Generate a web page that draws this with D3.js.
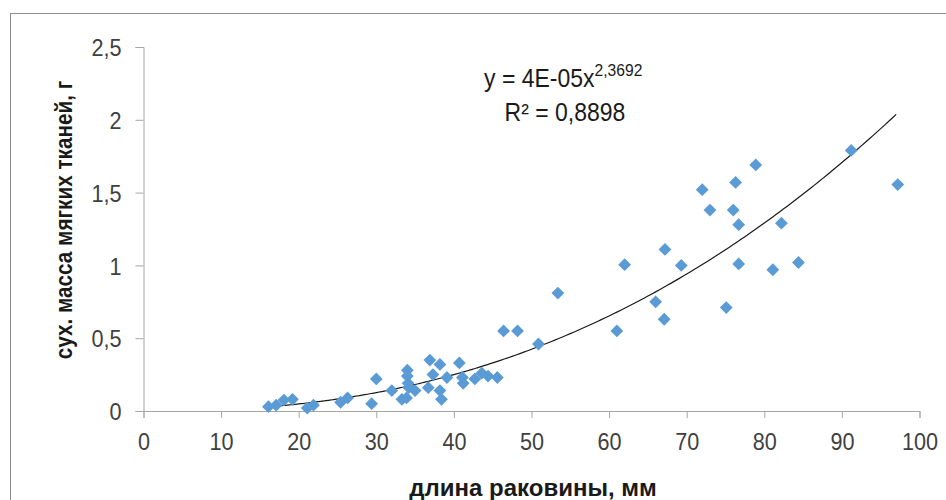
<!DOCTYPE html>
<html><head><meta charset="utf-8">
<script src="https://cdn.jsdelivr.net/npm/d3@7"></script>
<style>
html,body{margin:0;padding:0;background:#fff;}
svg{display:block;}
</style></head>
<body>
<svg id="chart" width="946" height="500"></svg>
<script>
// Data
const shellLength = [16.1,17.1,18.1,19.2,21.1,21.9,25.4,26.3,29.4,30.0,32.0,33.3,33.9,34.0,34.0,34.1,34.2,35.0,36.9,38.2,37.3,36.7,38.2,38.4,39.1,40.7,41.2,41.1,42.7,43.6,44.4,45.6,46.4,48.2,50.9,53.4,61.0,62.0,66.0,67.1,67.2,69.3,72.0,73.0,75.1,76.0,76.3,76.7,76.7,78.9,81.1,82.2,84.4,91.2,97.2];
const dryMass    = [0.03,0.04,0.075,0.08,0.02,0.04,0.06,0.09,0.05,0.22,0.14,0.08,0.09,0.28,0.24,0.19,0.16,0.14,0.35,0.32,0.25,0.16,0.14,0.08,0.23,0.33,0.19,0.23,0.22,0.26,0.24,0.23,0.55,0.55,0.46,0.81,0.55,1.005,0.75,0.63,1.11,1.0,1.52,1.38,0.71,1.38,1.57,1.28,1.01,1.69,0.97,1.29,1.02,1.79,1.555];
const xTicks = [0,10,20,30,40,50,60,70,80,90,100];
const yTicks = [0,0.5,1,1.5,2,2.5];
// Power trendline y = a * x^b (as shown on the chart)
const fitA = 4e-5, fitB = 2.3692;
const fitRange = [16, 97];
const eqMain = "y = 4E-05x", eqSup = "2,3692", r2Text = "R² = 0,8898";
const xTitle = "длина раковины, мм";
const yTitle = "сух. масса мягких тканей, г";

const svg = d3.select("#chart");
const x = d3.scaleLinear().domain([0,100]).range([143.5,919.5]);
const y = d3.scaleLinear().domain([0,2.5]).range([411,47]);
const fmt = v => String(v).replace(".", ",");
const font = "'Liberation Sans',Arial,sans-serif";
const sx = 0.9; // horizontal condensing to mimic a narrow font
const axisColor = "#a6a6a6";
const textColor = "#404040";

// frame
svg.append("rect").attr("x",10.5).attr("y",13.5).attr("width",1000).attr("height",1000)
  .attr("fill","none").attr("stroke","#8c8c8c").attr("stroke-width",1);

// axes
const gx = svg.append("g").attr("transform",`translate(0,${y(0)})`)
  .call(d3.axisBottom(x).tickValues(xTicks).tickFormat(fmt).tickSize(7));
const gy = svg.append("g").attr("transform",`translate(${x(0)},0)`)
  .call(d3.axisLeft(y).tickValues(yTicks).tickFormat(fmt).tickSize(8));
[gx,gy].forEach(g=>{
  g.select(".domain").attr("stroke",axisColor);
  g.selectAll(".tick line").attr("stroke",axisColor);
  g.selectAll(".tick text").attr("fill",textColor).style("font-family",font).style("font-size","24px");
});
gx.selectAll(".tick text").attr("dy",null).attr("y",39).attr("x",0).attr("transform",`scale(${sx},1)`);
gy.selectAll(".tick text").attr("x",-22/sx).attr("dy","0.36em").attr("transform",`scale(${sx},1)`);

// trendline
const fitX = d3.range(fitRange[0], fitRange[1]+0.01, 0.5);
const line = d3.line().x(d=>x(d)).y(d=>y(fitA*Math.pow(d,fitB))).curve(d3.curveMonotoneX);
svg.append("path").datum(fitX).attr("d",line).attr("fill","none").attr("stroke","#1a1a1a").attr("stroke-width",1.2);

// points
const pts = shellLength.map((v,i)=>({x:v,y:dryMass[i]}));
const sym = d3.symbol().type(d3.symbolSquare).size(82);
svg.append("g").selectAll("path").data(pts).join("path")
  .attr("d",sym)
  .attr("transform",d=>`translate(${x(d.x)},${y(d.y)}) rotate(45)`)
  .attr("fill","#5b9bd5");

// equation
const eq = svg.append("text").attr("transform",`translate(484,87) scale(0.92,1)`)
  .style("font-family",font).style("font-size","25px").attr("fill","#1a1a1a");
eq.append("tspan").text(eqMain);
eq.append("tspan").attr("dy",-11).style("font-size","17px").text(eqSup);
svg.append("text").attr("transform",`translate(565,121) scale(0.92,1)`).attr("text-anchor","middle")
  .style("font-family",font).style("font-size","25px").attr("fill","#1a1a1a").text(r2Text);

// axis titles
svg.append("text").attr("transform",`translate(533,496)`).attr("text-anchor","middle")
  .style("font-family",font).style("font-weight","bold").style("font-size","24px").attr("fill","#1a1a1a").text(xTitle);
svg.append("text").attr("transform",`translate(72,220) rotate(-90) scale(0.9,1)`).attr("text-anchor","middle")
  .style("font-family",font).style("font-weight","bold").style("font-size","23px").attr("fill","#1a1a1a").text(yTitle);
</script>
</body></html>
